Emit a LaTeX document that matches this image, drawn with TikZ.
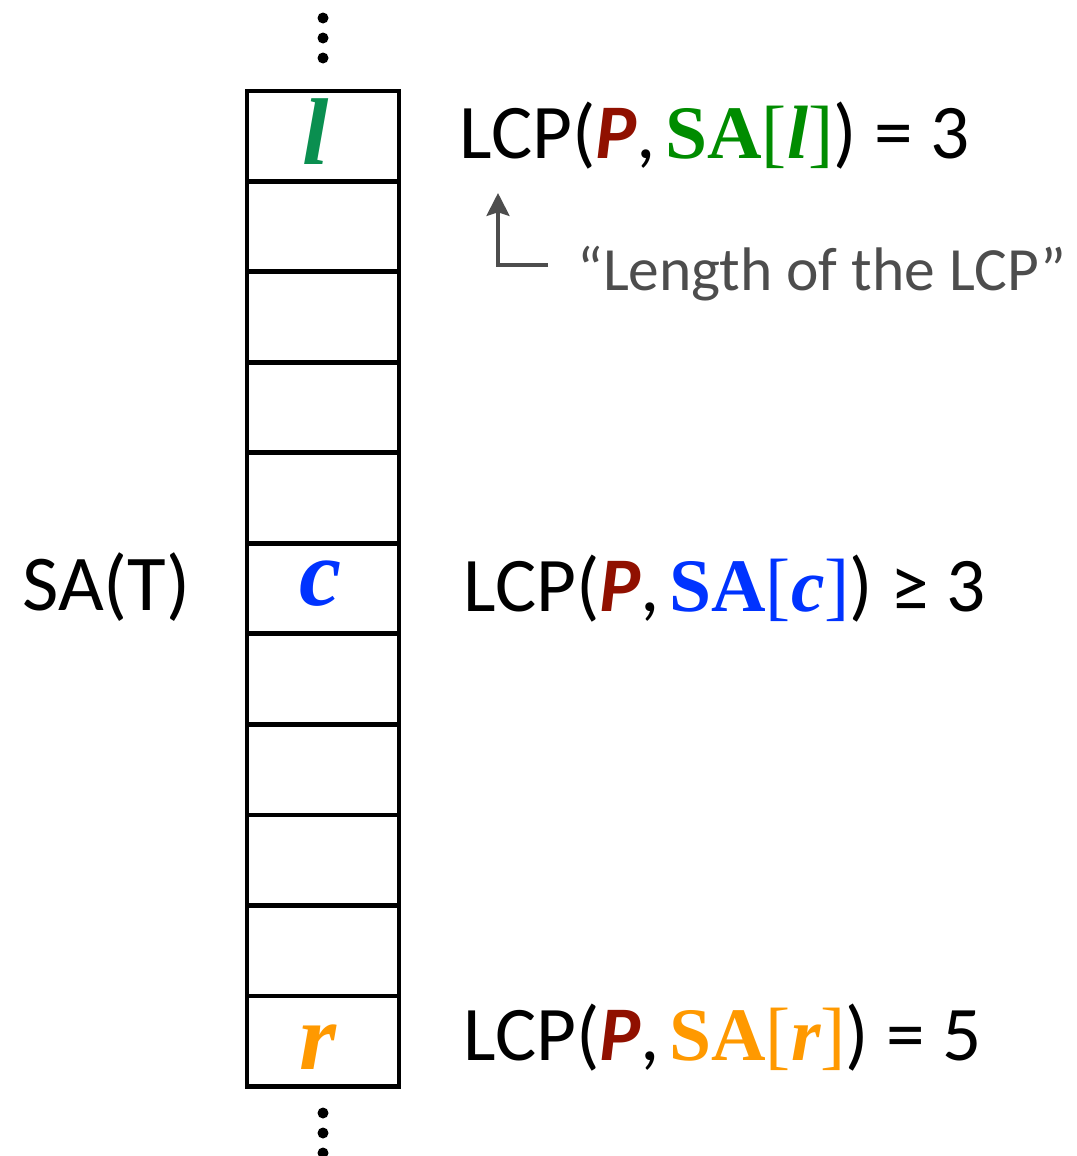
\documentclass[tikz,border=0pt]{standalone}
\usepackage{fontspec}
\setmainfont{Carlito}
\newfontfamily\timesfont{Liberation Serif}
\usetikzlibrary{arrows.meta}
\definecolor{pred}{RGB}{144,16,0}
\definecolor{lgreen}{RGB}{0,140,0}
\definecolor{lcell}{RGB}{10,143,80}
\definecolor{cblue}{RGB}{0,51,255}
\definecolor{rorange}{RGB}{255,153,0}
\definecolor{notegray}{RGB}{77,77,77}
\newcommand{\pvar}{\textcolor{pred}{\bfseries\itshape P}}
\newcommand{\saof}[2]{\textcolor{#1}{\fontsize{43}{50}\timesfont{\bfseries SA}[{\bfseries\itshape #2}]}}
\tikzset{
  cellbox/.style={draw, line width=4.5pt*0.569, minimum width=3.04cm, minimum height=1.81cm, inner sep=0pt, outer sep=0pt},
  cellletter/.style={anchor=base, inner sep=0pt, font=\fontsize{54}{60}\timesfont\bfseries\itshape},
  lcptext/.style={anchor=base west, inner sep=0pt, font=\fontsize{44}{50}\selectfont},
  notearrow/.style={notegray, line width=2.3pt, -{Stealth[length=13pt,width=13pt,inset=2pt]}}
}

\begin{document}
\begin{tikzpicture}[x=0.02cm,y=-0.02cm]
  \useasboundingbox (0,0) rectangle (1077,1156);
  % the suffix array column
  \foreach \i in {0,...,10}
    \node[cellbox] (cell\i) at (323,136+90.5*\i) {};
  \foreach \y in {18,38,58,1113,1133,1153}
    \fill (323,\y) circle (5.5);
  \node[cellletter, text=lcell] (lname) at (316,164) {l};
  \node[cellletter, text=cblue] (cname) at (321,605) {c};
  \node[cellletter, text=rorange] (rname) at (318,1069) {r};
  \node[lcptext, font=\fontsize{45}{50}\selectfont] (satext) at (22,610) {SA(T)};
  % the three LCP values
  \node[lcptext] (lcpl) at (459,158) {LCP(\pvar,\hspace{0.12em}\saof{lgreen}{l}) = 3};
  \node[lcptext] (lcpc) at (463,611) {LCP(\pvar,\hspace{0.12em}\saof{cblue}{c}) ≥ 3};
  \node[lcptext] (lcpr) at (463,1060) {LCP(\pvar,\hspace{0.12em}\saof{rorange}{r}) = 5};
  % note under the first one
  \node[anchor=base west, inner sep=0pt, text=notegray, font=\fontsize{35}{42}\selectfont] (lengthnote) at (577,290) {“Length of the LCP”};
  \coordinate (arrowtip) at (498,193);
  \draw[notearrow] ([shift={(-29,-25)}]lengthnote.base west) -| (arrowtip);
\end{tikzpicture}
\end{document}
